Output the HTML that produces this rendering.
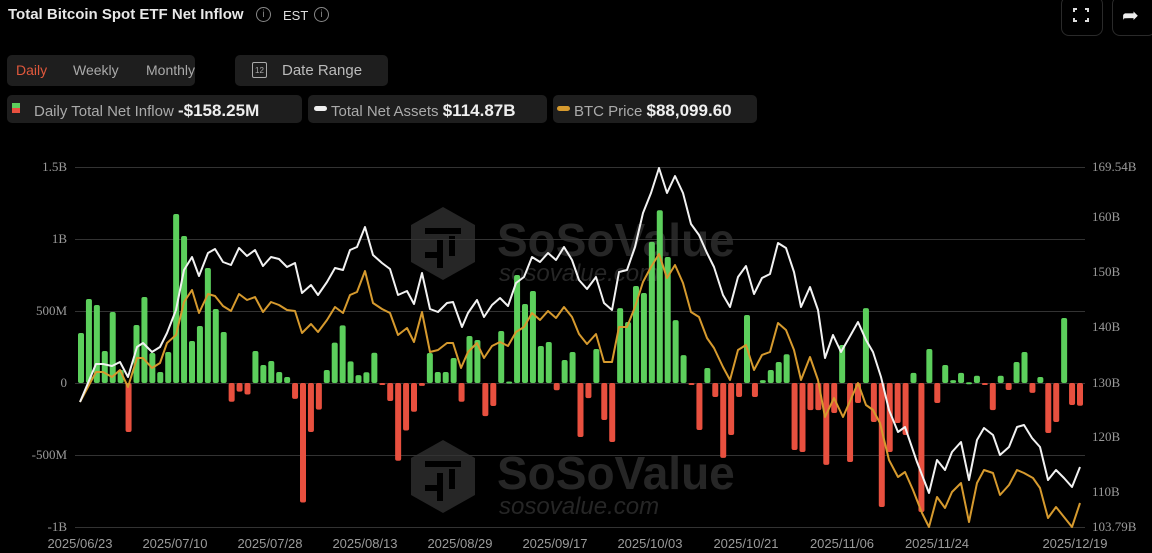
<!DOCTYPE html>
<html><head><meta charset="utf-8"><style>
html,body{margin:0;padding:0;background:#000;width:1152px;height:553px;overflow:hidden;font-family:"Liberation Sans",sans-serif}
.t{position:absolute;color:#e6e6e6}
.box{position:absolute;background:#1e1e1e;border-radius:5px}
</style></head><body>
<div class="t" style="left:8px;top:6px;font-size:15px;font-weight:bold;color:#e8e8e8">Total Bitcoin Spot ETF Net Inflow</div>
<div style="position:absolute;left:256px;top:7px;width:13px;height:13px;border:1.3px solid #888;border-radius:50%;color:#888;font-size:10px;text-align:center;line-height:13px">i</div>
<div class="t" style="left:283px;top:8px;font-size:13px;color:#ddd">EST</div>
<div style="position:absolute;left:314px;top:7px;width:13px;height:13px;border:1.3px solid #888;border-radius:50%;color:#888;font-size:10px;text-align:center;line-height:13px">i</div>
<div style="position:absolute;left:1061px;top:-4px;width:40px;height:38px;border:1px solid #2a2a2a;border-radius:8px"></div>
<div style="position:absolute;left:1073px;top:8px;width:16px;height:14px;border:2px solid #ddd;box-sizing:border-box"></div>
<div style="position:absolute;left:1077px;top:4px;width:8px;height:22px;background:#000"></div>
<div style="position:absolute;left:1069px;top:12px;width:24px;height:6px;background:#000"></div>
<div style="position:absolute;left:1112px;top:-4px;width:42px;height:38px;border:1px solid #2a2a2a;border-radius:8px"></div>
<div class="t" style="left:1122px;top:3px;font-size:20px;color:#eee">➦</div>
<div class="box" style="left:7px;top:55px;width:188px;height:31px"></div>
<div class="t" style="left:16px;top:62px;font-size:14px;color:#e0583c">Daily</div>
<div class="t" style="left:73px;top:62px;font-size:14px;color:#aaa">Weekly</div>
<div class="t" style="left:146px;top:62px;font-size:14px;color:#aaa">Monthly</div>
<div class="box" style="left:235px;top:55px;width:153px;height:31px"></div>
<div style="position:absolute;left:252px;top:62px;width:13px;height:14px;border:1.3px solid #aaa;border-radius:2px;font-size:8px;color:#aaa;text-align:center;line-height:16px">12</div>
<div class="t" style="left:282px;top:62px;font-size:15px;color:#bbb">Date Range</div>
<div class="box" style="left:7px;top:95px;width:295px;height:28px"></div>
<div style="position:absolute;left:12px;top:103px;width:8px;height:5px;background:#5ccf5c"></div>
<div style="position:absolute;left:12px;top:108px;width:8px;height:5px;background:#e8503f"></div>
<div class="t" style="left:34px;top:101px;font-size:15px;color:#aaa">Daily Total Net Inflow <b style="color:#eee;font-size:17px">-$158.25M</b></div>
<div class="box" style="left:308px;top:95px;width:239px;height:28px"></div>
<div style="position:absolute;left:314px;top:106px;width:13px;height:5px;border-radius:3px;background:#eee"></div>
<div class="t" style="left:331px;top:101px;font-size:15px;color:#aaa">Total Net Assets <b style="color:#eee;font-size:17px">$114.87B</b></div>
<div class="box" style="left:553px;top:95px;width:204px;height:28px"></div>
<div style="position:absolute;left:557px;top:106px;width:13px;height:5px;border-radius:3px;background:#d69a2e"></div>
<div class="t" style="left:574px;top:101px;font-size:15px;color:#aaa">BTC Price <b style="color:#eee;font-size:17px">$88,099.60</b></div>
<svg id="c" width="1152" height="553" style="position:absolute;left:0;top:0" xmlns="http://www.w3.org/2000/svg">
<g fill="#262626">
<polygon points="443,207 475,225 475,262 443,280 411,262 411,225"/>
<polygon points="443,440 475,458 475,495 443,513 411,495 411,458"/>
</g>
<g fill="#000">
<rect x="425" y="228" width="36" height="6"/><rect x="437" y="240" width="6" height="28"/><rect x="425" y="252" width="12" height="6"/><rect x="449" y="236" width="6" height="20"/>
<rect x="425" y="461" width="36" height="6"/><rect x="437" y="473" width="6" height="28"/><rect x="425" y="485" width="12" height="6"/><rect x="449" y="469" width="6" height="20"/>
</g>
<text x="497" y="256" font-family="Liberation Sans" font-weight="bold" font-size="46" fill="#262626">SoSoValue</text>
<text x="499" y="281" font-family="Liberation Sans" font-style="italic" font-size="24" fill="#262626">sosovalue.com</text>
<text x="497" y="489" font-family="Liberation Sans" font-weight="bold" font-size="46" fill="#262626">SoSoValue</text>
<text x="499" y="514" font-family="Liberation Sans" font-style="italic" font-size="24" fill="#262626">sosovalue.com</text>
<g id="grid" stroke="#333" stroke-width="1"></g>
<g id="bars"></g>
<g id="lab" font-family="Liberation Serif" font-size="13" fill="#9a9a9a"></g>
</svg>
<script>
var ns="http://www.w3.org/2000/svg",svg=document.getElementById('c');
function el(t,a,p){var e=document.createElementNS(ns,t);for(var k in a)e.setAttribute(k,a[k]);(p||svg).appendChild(e);return e;}
var g=document.getElementById('grid'),lab=document.getElementById('lab');
var gy=[167,239,311,383,455,527],gl=['1.5B','1B','500M','0','-500M','-1B'];
for(var i=0;i<6;i++){el('line',{x1:75,x2:1085,y1:gy[i]+.5,y2:gy[i]+.5},g);var t=el('text',{x:67,y:gy[i]+4,'text-anchor':'end'},lab);t.textContent=gl[i];}
var ry=[[167,'169.54B'],[217,'160B'],[272,'150B'],[327,'140B'],[383,'130B'],[437,'120B'],[492,'110B'],[527,'103.79B']];
ry.forEach(function(r){var t=el('text',{x:1092,y:r[0]+4},lab);t.textContent=r[1];});
var xl=[[80,'2025/06/23'],[175,'2025/07/10'],[270,'2025/07/28'],[365,'2025/08/13'],[460,'2025/08/29'],[555,'2025/09/17'],[650,'2025/10/03'],[746,'2025/10/21'],[842,'2025/11/06'],[937,'2025/11/24'],[1075,'2025/12/19']];
xl.forEach(function(r){var t=el('text',{x:r[0],y:548,'text-anchor':'middle','font-family':'Liberation Sans','font-size':'13',fill:'#9a9a9a'},lab);t.textContent=r[1];});
var v=[347,583,542,222,493,90,-340,403,597,208,76,215,1174,1021,292,396,799,514,354,-130,-60,-80,222,125,153,76,42,-110,-830,-340,-185,90,280,400,150,55,75,210,-10,-125,-540,-330,-200,-20,208,76,76,174,-130,326,299,-230,-160,361,10,750,549,639,257,285,-50,160,215,-375,-105,236,-257,-410,
520,424,674,625,980,1200,875,437,194,-5,-326,104,-97,-520,-361,-97,472,-97,20,90,146,200,-465,-479,-188,-188,-569,-208,264,-549,-139,520,-271,-861,-479,-278,-361,70,-896,236,-139,125,20,70,5,50,-10,-188,50,-49,146,215,-69,42,-347,-271,451,-153,-158];
var b=document.getElementById('bars'),n=v.length,step=(1080-81)/(n-1);
for(var i=0;i<n;i++){var x=81+i*step,h=Math.abs(v[i])*0.144,y=v[i]>=0?383-h:383;if(h<2)h=2;
el('rect',{x:x-3,y:y,width:6,height:h,rx:2,fill:v[i]>=0?'#5ccf5c':'#e8503f'},b);}
var W="80,402 96,364 103,364 112,366 120,362 128,377 137,347 143,343 152,352 160,347 167,333 176,310 184,270 192,257 199,276 208,253 215,249 223,262 231,265 239,248 247,256 255,250 263,266 271,257 279,259 287,267 295,263 302,293 311,285 318,295 327,282 335,268 343,270 350,250 357,247 365,227 373,255 382,263 390,269 398,295 407,291 414,304 422,273 430,309 438,312 447,303 453,302 462,327 468,313 477,300 484,317 492,305 500,298 508,306 516,283 524,277 532,257 540,262 548,253 556,260 564,247 572,260 579,280 587,289 596,277 604,303 612,310 619,272 627,270 635,247 643,213 651,193 659,168 667,193 675,176 683,193 691,224 699,235 707,253 714,267 723,295 730,307 738,277 746,266 754,294 762,278 770,274 778,243 786,248 794,272 801,307 810,287 818,310 825,358 833,335 841,352 849,338 858,322 866,340 873,352 881,377 889,410 898,432 905,427 917,462 929,493 937,460 945,470 952,452 961,442 969,480 977,440 984,428 993,435 1000,455 1009,447 1017,427 1024,425 1032,438 1040,447 1048,480 1056,470 1064,478 1072,487 1080,467";
var G="80,402 96,372 103,372 112,377 120,370 128,387 137,358 143,358 152,368 160,363 167,343 176,335 184,302 192,290 199,313 208,294 215,296 223,306 231,311 239,294 247,300 255,297 263,312 271,302 279,305 287,310 295,311 302,333 311,324 318,332 327,320 335,307 343,313 350,295 357,292 365,271 373,303 382,309 390,313 398,335 407,328 414,342 422,312 430,352 438,350 447,343 453,343 461,368 468,352 477,343 484,358 492,346 500,342 508,346 516,332 524,327 532,313 540,320 548,311 556,318 564,307 572,317 579,334 587,344 596,334 604,362 612,362 619,327 627,327 635,307 643,282 651,267 659,254 667,278 675,265 683,283 691,312 699,317 707,338 714,348 723,367 730,380 738,350 746,345 754,370 762,355 770,352 778,323 786,330 794,350 801,380 810,357 818,380 825,417 834,398 843,417 858,383 866,405 873,410 880,423 889,460 898,477 905,472 913,490 922,513 929,527 937,497 945,508 952,492 961,483 969,522 977,483 984,470 993,473 1000,495 1009,485 1017,470 1024,473 1033,478 1040,488 1048,518 1056,507 1064,517 1072,527 1080,503";
el('polyline',{points:G,fill:'none',stroke:'#d69a2e','stroke-width':2,'stroke-linejoin':'round'});
el('polyline',{points:W,fill:'none',stroke:'#f2f2f2','stroke-width':2,'stroke-linejoin':'round'});
</script>
</body></html>
